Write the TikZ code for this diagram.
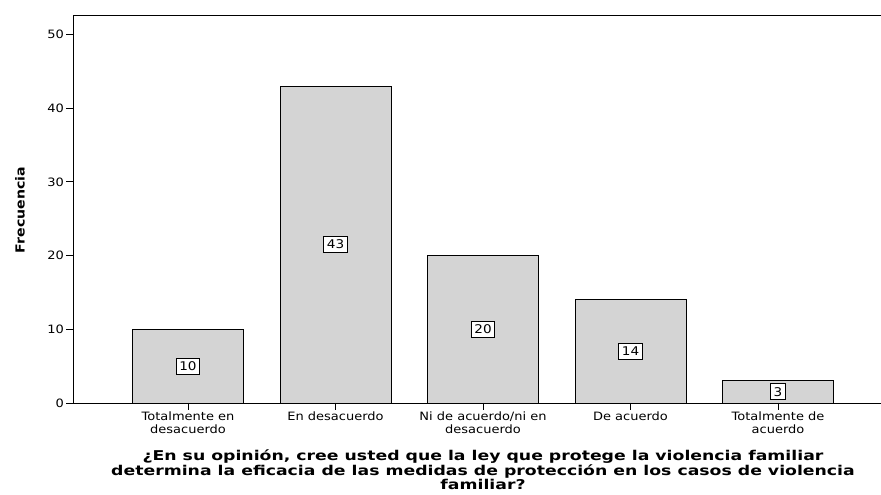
\documentclass[tikz,border=0pt]{standalone}
\usepackage{fontspec}
\setmainfont{DejaVu Sans}
\newfontfamily\anchafont[FakeStretch=1.13]{DejaVu Sans}
\newfontfamily\titulofont[FakeStretch=1.28]{DejaVu Sans}

\tikzset{
    barra/.style={draw=black, fill=black!17, line width=0.9pt},
    valor/.style={draw=black, fill=white, line width=1pt, inner xsep=3pt, inner ysep=3.5pt,
        font=\anchafont\fontsize{12}{12}\selectfont},
    categoria/.style={align=center, anchor=north, inner sep=0pt,
        font=\anchafont\fontsize{11.5}{12.8}\selectfont},
    marca/.style={anchor=east, inner sep=0pt, font=\anchafont\fontsize{11.5}{12}\selectfont},
}

\begin{document}
\begin{tikzpicture}[x=1pt, y=1pt]
    \useasboundingbox (0, 0) rectangle (881, 495);

    % marco del grafico
    \draw[line width=0.9pt] (881, 480) -- (73, 480) -- (73, 92) -- (881, 92);

    % eje de frecuencias
    \foreach \v in {0, 10, ..., 50} {
        \draw[line width=0.8pt] (66, 92 + 7.37*\v) -- (73, 92 + 7.37*\v);
        \node[marca] (y\v) at (64, 92 + 7.37*\v) {\v};
    }
    \node[rotate=90, font=\anchafont\bfseries\fontsize{12.5}{14}\selectfont] (frec) at (20, 285) {Frecuencia};

    % barras
    \draw[barra] (132.5, 92) rectangle (243.5, 165.7) node [valor, pos=0.5] (v1) {10};
    \draw[barra] (280, 92) rectangle (391, 408.9) node [valor, pos=0.5] (v2) {43};
    \draw[barra] (427.5, 92) rectangle (538.5, 239.4) node [valor, pos=0.5] (v3) {20};
    \draw[barra] (575, 92) rectangle (686, 195.2) node [valor, pos=0.5] (v4) {14};
    \draw[barra] (722.5, 92) rectangle (833.5, 114.1) node [valor, pos=0.5] (v5) {3};

    % categorias
    \foreach \x in {188, 335.5, 483, 630.5, 778}
        \draw[line width=0.8pt] (\x, 92) -- (\x, 85);
    \node[categoria] (c1) at (188, 83) {Totalmente en\\desacuerdo};
    \node[categoria] (c2) at (335.5, 83) {En desacuerdo};
    \node[categoria] (c3) at (483, 83) {Ni de acuerdo/ni en\\desacuerdo};
    \node[categoria] (c4) at (630.5, 83) {De acuerdo};
    \node[categoria] (c5) at (778, 83) {Totalmente de\\acuerdo};

    \node[align=center, inner sep=0pt, font=\titulofont\bfseries\fontsize{13.5}{12.8}\selectfont] (titulo) at (483, 25)
        {¿En su opinión, cree usted que la ley que protege la violencia familiar\\
         determina la eficacia de las medidas de protección en los casos de violencia\\
         familiar?};
\end{tikzpicture}
\end{document}
